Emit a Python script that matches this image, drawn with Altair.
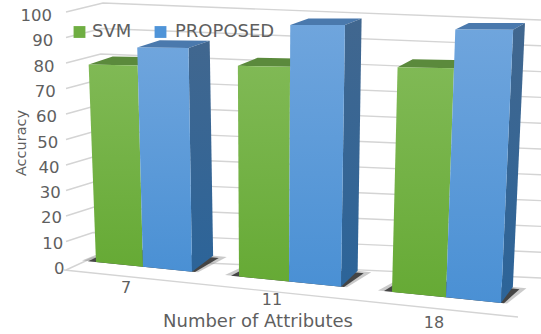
import altair as alt
import pandas as pd

# Chart values
attributes = ["7", "11", "18"]
series_names = ["SVM", "PROPOSED"]
svm_accuracy = [79, 79.5, 80]
proposed_accuracy = [86, 95, 93.5]
ticks = [0, 10, 20, 30, 40, 50, 60, 70, 80, 90, 100]

# Base spans of the bars along the floor's front edge (svm left, shared edge, proposed right)
bar_edges = [(96, 143, 192), (239, 289, 341), (392, 446, 501)]


def project(x0, depth, value):
    """Oblique view of a point on the floor at x0, raised to value, pushed back by depth."""
    x = x0 + (x0 - 265) * 0.055 * value / 100 + depth * (24 - 0.03 * (x0 - 96))
    y = 262 + 0.101 * (x0 - 96) - value * (2.5 + 0.00104 * (x0 - 96)) + depth * (-16 + 0.10 * value)
    return x, y


def face(rows, name, corners):
    for i, (x0, d, v) in enumerate(corners):
        x, y = project(x0, d, v)
        rows.append({"bar": name, "i": i, "x": x, "y": y})


faces = {k: [] for k in ["gt", "gf", "bt", "bs", "bf", "sh1", "sh2"]}
for n, ((a, b, c), s, p) in enumerate(zip(bar_edges, svm_accuracy, proposed_accuracy)):
    face(faces["gt"], f"s{n}", [(a, 0, s), (b, 0, s), (b, 1, s), (a, 1, s)])
    face(faces["gf"], f"s{n}", [(a, 0, s), (b, 0, s), (b, 0, 0), (a, 0, 0)])
    face(faces["bt"], f"p{n}", [(b, 0, p), (c, 0, p), (c, 1, p), (b, 1, p)])
    face(faces["bs"], f"p{n}", [(c, 0, p), (c, 1, p), (c, 1, 0), (c, 0, 0)])
    face(faces["bf"], f"p{n}", [(b, 0, p), (c, 0, p), (c, 0, 0), (b, 0, 0)])
    face(faces["sh1"], f"d{n}", [(a - 14, 0, 0), (c + 6, 0, 0), (c + 14, 1, 0), (a - 2, 1, 0)])
    face(faces["sh2"], f"d{n}", [(a - 8, 0, 0), (c + 3, 0, 0), (c + 8, 0.9, 0), (a, 0.9, 0)])

# Gridlines run along the side wall and then the back wall
grid_rows = []
for v in ticks:
    left_y = 270 if v == 0 else 267 - 2.55 * v
    pts = [(66, left_y), (92 + 0.11 * v, 258 - 2.55 * v), (541, 278 - 2.58 * v)]
    for i, (x, y) in enumerate(pts):
        grid_rows.append({"tick": v, "i": i, "x": x, "y": y})
floor_edge = pd.DataFrame({"x": [64, 518], "y": [270, 317]})

tick_labels = pd.DataFrame({
    "label": [str(v) for v in ticks],
    "x": [64.5 - 0.125 * v for v in ticks],
    "y": [269 - 2.53 * v for v in ticks],
})
category_labels = pd.DataFrame({"label": attributes, "x": [126, 272, 434], "y": [288, 300, 323]})
legend_marks = pd.DataFrame({"x": [79.5, 160.5], "y": [32, 32], "name": series_names})
legend_text = pd.DataFrame({"x": [92, 175], "y": [31.5, 31.5], "name": series_names})

X = alt.X("x:Q", scale=alt.Scale(domain=[0, 541], range=[0, 541], nice=False, zero=False), axis=None)
Y = alt.Y("y:Q", scale=alt.Scale(domain=[0, 334], range=[0, 334], nice=False, zero=False), axis=None)


def gradient(top, bottom):
    return alt.Gradient(
        gradient="linear", x1=0, y1=0, x2=0, y2=1,
        stops=[alt.GradientStop(color=top, offset=0), alt.GradientStop(color=bottom, offset=1)],
    )


def polygons(key, fill, opacity=1.0):
    return (
        alt.Chart(pd.DataFrame(faces[key]))
        .mark_line(interpolate="linear-closed", fill=fill, strokeWidth=0, opacity=opacity)
        .encode(x=X, y=Y, detail="bar:N", order="i:Q")
    )


grid = (
    alt.Chart(pd.DataFrame(grid_rows))
    .mark_line(color="#d4d4d4", strokeWidth=1.4)
    .encode(x=X, y=Y, detail="tick:N", order="i:Q")
)
edge = alt.Chart(floor_edge).mark_line(color="#d4d4d4", strokeWidth=1.4).encode(x=X, y=Y)


def text(df, field, size, align="center", angle=0, color="#5f5f5f"):
    return (
        alt.Chart(df)
        .mark_text(font="DejaVu Sans", fontSize=size, align=align, baseline="middle", angle=angle, color=color)
        .encode(x=X, y=Y, text=f"{field}:N")
    )


legend_swatches = (
    alt.Chart(legend_marks)
    .mark_square(size=140, opacity=1)
    .encode(x=X, y=Y, color=alt.Color("name:N", scale=alt.Scale(domain=series_names, range=["#6fae42", "#4f94d8"]), legend=None))
)

x_title = text(pd.DataFrame({"x": [258], "y": [322], "t": ["Number of Attributes"]}), "t", 18)
y_title = text(pd.DataFrame({"x": [22], "y": [143], "t": ["Accuracy"]}), "t", 14.5, angle=270)

chart = alt.layer(
    grid,
    edge,
    polygons("sh1", "#8a8a8a", 0.45),
    polygons("sh2", "#2e2e2e", 0.85),
    polygons("gt", "#5b8a3c"),
    polygons("gf", gradient("#80b955", "#66aa35")),
    polygons("bt", "#4a79ad"),
    polygons("bs", gradient("#41678f", "#2c6499")),
    polygons("bf", gradient("#6fa5dd", "#4a90d4")),
    text(tick_labels, "label", 16.5, align="right"),
    text(category_labels, "label", 16),
    x_title,
    y_title,
    legend_swatches,
    text(legend_text, "name", 18, align="left"),
).properties(width=541, height=334, padding=0, autosize=alt.AutoSizeParams(type="none")).configure_view(stroke=None)

chart.save("out.html", embed_options={"renderer": "svg", "actions": False})
